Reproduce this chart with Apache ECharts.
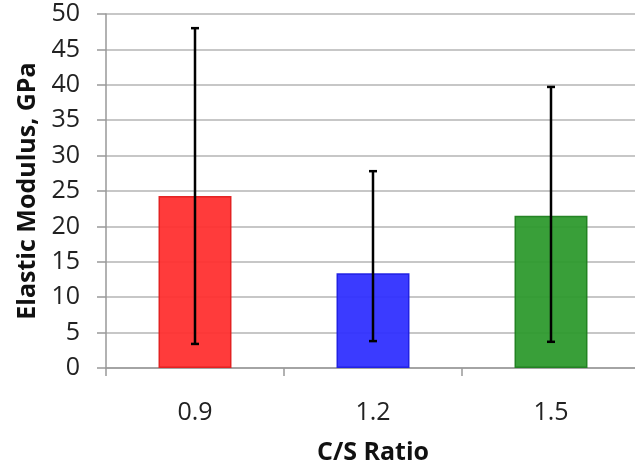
<!DOCTYPE html>
<html>
<head>
<meta charset="utf-8">
<script src="https://cdn.jsdelivr.net/npm/echarts@6/dist/echarts.min.js"></script>
<style>
  html, body { margin: 0; padding: 0; background: #fff; overflow: hidden; }
  /* the plot area runs a few pixels past the right edge of the window */
  #chart { width: 645px; height: 472px; }
</style>
</head>
<body>
<div id="chart"></div>
<script>
// C/S ratio groups and the elastic modulus measured for each
const categories = ['0.9', '1.2', '1.5'];
const modulus = [24.3, 13.4, 21.5];
const errLow = [3.4, 3.8, 3.7];
const errHigh = [48.0, 27.8, 39.7];
const yTicks = [0, 5, 10, 15, 20, 25, 30, 35, 40, 45, 50];

const fills = ['#ff3030', '#3030ff', '#2e9a2e'];
const borders = ['#e21c1c', '#1c1ce2', '#1f7f1f'];

const chart = echarts.init(document.getElementById('chart'), null, { renderer: 'canvas' });

const errData = categories.map((c, i) => [i, errLow[i], errHigh[i]]);

chart.setOption({
  animation: false,
  backgroundColor: '#ffffff',
  grid: { left: 106, top: 14, width: 534, height: 354, containLabel: false },
  xAxis: {
    type: 'category',
    data: categories,
    name: 'C/S Ratio',
    nameLocation: 'middle',
    nameGap: 72,
    nameTextStyle: { fontFamily: 'Open Sans', fontWeight: 'bold', fontSize: 25, color: '#111' },
    axisLine: { lineStyle: { color: '#999', width: 1.5 } },
    axisTick: { show: true, length: 8, lineStyle: { color: '#999', width: 1.5 } },
    axisLabel: { fontFamily: 'Open Sans', fontSize: 25, color: '#222', margin: 32 },
    splitLine: { show: false }
  },
  yAxis: {
    type: 'value',
    min: yTicks[0],
    max: yTicks[yTicks.length - 1],
    interval: 5,
    name: 'Elastic Modulus, GPa',
    nameLocation: 'middle',
    nameGap: 65,
    nameTextStyle: { fontFamily: 'Open Sans', fontWeight: 'bold', fontSize: 25, color: '#111' },
    axisLine: { show: true, lineStyle: { color: '#999', width: 1.5 } },
    axisTick: { show: true, length: 9, lineStyle: { color: '#999', width: 1.5 } },
    axisLabel: { fontFamily: 'Open Sans', fontSize: 25, color: '#222', margin: 26 },
    splitLine: { show: true, lineStyle: { color: '#b5b5b5', width: 1.5 } }
  },
  series: [
    {
      type: 'bar',
      barWidth: '41%',
      data: modulus.map((v, i) => ({
        value: v,
        itemStyle: { color: fills[i], borderColor: borders[i], borderWidth: 1.5, opacity: 0.95 }
      })),
      z: 2
    },
    {
      type: 'custom',
      z: 3,
      data: errData,
      renderItem: function (params, api) {
        const x = api.value(0);
        const lo = api.coord([x, api.value(1)]);
        const hi = api.coord([x, api.value(2)]);
        const cap = 4;
        const style = { stroke: '#000', lineWidth: 2.5 };
        return {
          type: 'group',
          children: [
            { type: 'line', shape: { x1: hi[0], y1: hi[1], x2: lo[0], y2: lo[1] }, style: style },
            { type: 'line', shape: { x1: hi[0] - cap, y1: hi[1], x2: hi[0] + cap, y2: hi[1] }, style: style },
            { type: 'line', shape: { x1: lo[0] - cap, y1: lo[1], x2: lo[0] + cap, y2: lo[1] }, style: style }
          ]
        };
      }
    }
  ]
});
</script>
</body>
</html>
